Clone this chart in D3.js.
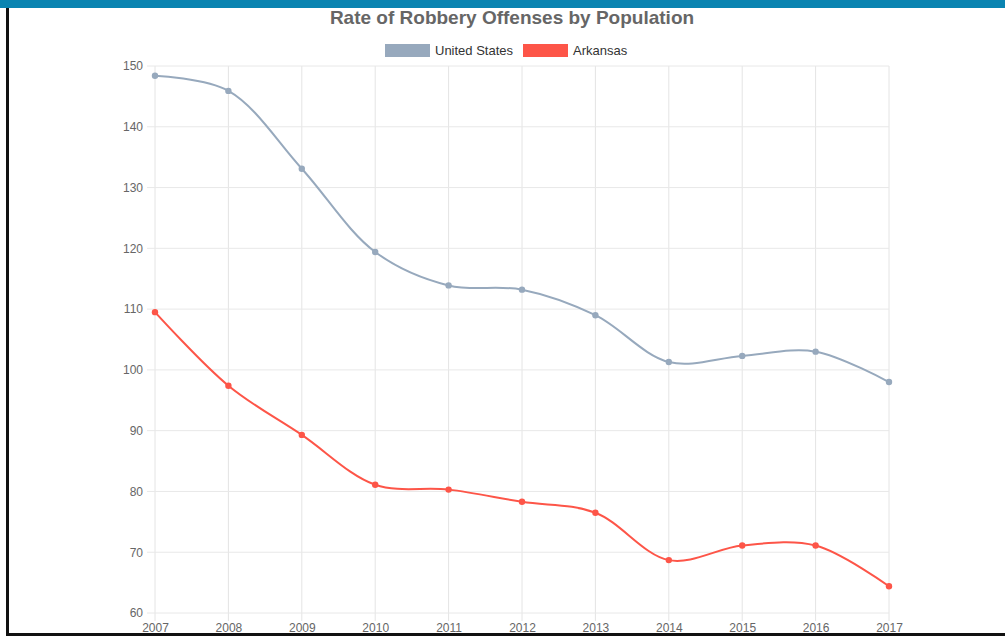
<!DOCTYPE html>
<html>
<head>
<meta charset="utf-8">
<script src="https://cdn.jsdelivr.net/npm/d3@7"></script>
<style>
  body { margin: 0; background: #fff; }
  svg { display: block; font-family: "Liberation Sans", Arial, sans-serif; }
</style>
</head>
<body>
<div id="chart"></div>
<script>
// Data
const years = [2007, 2008, 2009, 2010, 2011, 2012, 2013, 2014, 2015, 2016, 2017];
const usRates = [148.4, 145.9, 133.1, 119.4, 113.9, 113.2, 109.0, 101.3, 102.3, 103.0, 98.0];
const arRates = [109.5, 97.4, 89.3, 81.1, 80.3, 78.3, 76.5, 68.7, 71.1, 71.1, 64.4];
const yTicks = [60, 70, 80, 90, 100, 110, 120, 130, 140, 150];
const seriesNames = ["United States", "Arkansas"];
const seriesColors = ["#97a9bd", "#fd5548"];

const width = 1005;
const height = 637;

const svg = d3.select("#chart")
  .append("svg")
  .attr("width", width)
  .attr("height", height);

// Frame bits from the screenshot: blue band on top, black edges
svg.append("rect").attr("x", 0).attr("y", 0).attr("width", width).attr("height", 8).attr("fill", "#0a84b1");
svg.append("rect").attr("x", 6).attr("y", 8).attr("width", 3).attr("height", 628).attr("fill", "#111");
svg.append("rect").attr("x", 6).attr("y", 633).attr("width", width - 6).attr("height", 3).attr("fill", "#111");

const x = d3.scalePoint()
  .domain(years)
  .range([155, 889]);

const y = d3.scaleLinear()
  .domain([60, 150])
  .range([613, 66]);

// Grid lines
const grid = svg.append("g");
grid.selectAll(".vgrid")
  .data(years)
  .enter()
  .append("line")
  .attr("x1", d => x(d)).attr("x2", d => x(d))
  .attr("y1", y(150)).attr("y2", y(60) + 8)
  .attr("stroke", "#e4e4e4")
  .attr("stroke-width", 1);
grid.selectAll(".hgrid")
  .data(yTicks)
  .enter()
  .append("line")
  .attr("x1", x(2007) - 8).attr("x2", x(2017))
  .attr("y1", d => y(d)).attr("y2", d => y(d))
  .attr("stroke", "#e8e8e8")
  .attr("stroke-width", 1);

// Axes (labels only, lines come from the grid)
const yAxis = svg.append("g")
  .attr("transform", `translate(${x(2007) - 10},0)`)
  .call(d3.axisLeft(y).tickValues(yTicks).tickSize(0).tickPadding(2));
yAxis.select(".domain").remove();
yAxis.selectAll("text").attr("fill", "#666").style("font-size", "12px");

const xAxis = svg.append("g")
  .attr("transform", `translate(0,${y(60) + 8})`)
  .call(d3.axisBottom(x).tickFormat(d3.format("d")).tickSize(0).tickPadding(2));
xAxis.select(".domain").remove();
xAxis.selectAll("text").attr("fill", "#666").style("font-size", "12px");

// Lines and points
const line = d3.line()
  .x((d, i) => x(years[i]))
  .y(d => y(d))
  .curve(d3.curveCatmullRom.alpha(0.5));

[usRates, arRates].forEach((vals, k) => {
  svg.append("path")
    .datum(vals)
    .attr("d", line)
    .attr("fill", "none")
    .attr("stroke", seriesColors[k])
    .attr("stroke-width", 2);
  svg.selectAll(".pt" + k)
    .data(vals)
    .enter()
    .append("circle")
    .attr("cx", (d, i) => x(years[i]))
    .attr("cy", d => y(d))
    .attr("r", 3.2)
    .attr("fill", seriesColors[k]);
});

// Title
svg.append("text")
  .attr("x", 512)
  .attr("y", 24)
  .attr("text-anchor", "middle")
  .attr("fill", "#666")
  .style("font-size", "19px")
  .style("font-weight", "bold")
  .text("Rate of Robbery Offenses by Population");

// Legend
const legendX = [385, 523];
const legend = svg.selectAll(".legend")
  .data(seriesNames)
  .enter()
  .append("g")
  .attr("transform", (d, i) => `translate(${legendX[i]},44)`);
legend.append("rect")
  .attr("width", 45)
  .attr("height", 13)
  .attr("fill", (d, i) => seriesColors[i]);
legend.append("text")
  .attr("x", 50)
  .attr("y", 11)
  .attr("fill", "#333")
  .style("font-size", "13px")
  .text(d => d);
</script>
</body>
</html>
